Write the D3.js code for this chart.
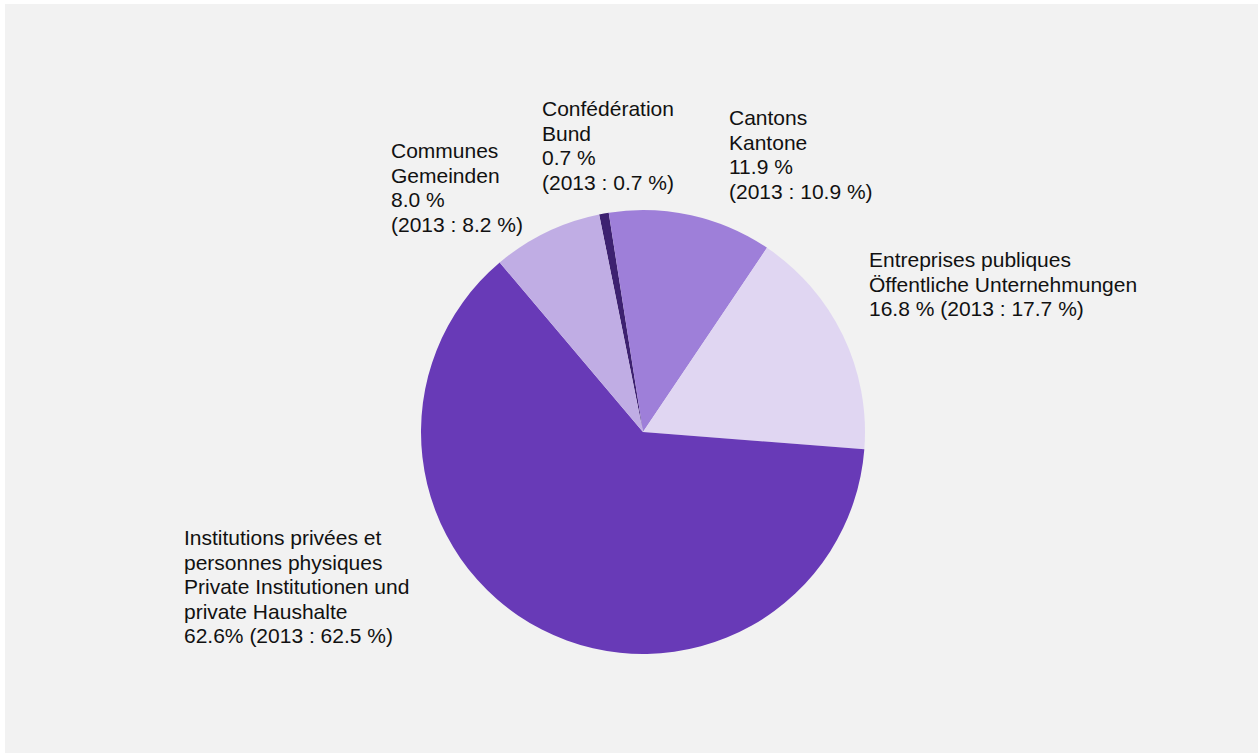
<!DOCTYPE html>
<html>
<head>
<meta charset="utf-8">
<script src="https://cdn.jsdelivr.net/npm/d3@7"></script>
<style>
  html, body { margin: 0; padding: 0; background: #ffffff; }
  svg { display: block; }
  text { font-family: "Liberation Sans", Arial, sans-serif; font-size: 21px; fill: #111111; }
</style>
</head>
<body>
<svg id="chart" width="1258" height="753"></svg>
<script>
// Shares of financing sources (%), drawn clockwise from the top
const categories = ["Confédération", "Cantons", "Entreprises publiques", "Institutions privées", "Communes"];
const shares = [0.7, 11.9, 16.8, 62.6, 8.0];
const colors = ["#3d2170", "#9e7fd9", "#e0d6f2", "#683ab7", "#c0ade4"];

// Label text, one array of lines per slice
const labelLines = [
  ["Confédération", "Bund", "0.7 %", "(2013 : 0.7 %)"],
  ["Cantons", "Kantone", "11.9 %", "(2013 : 10.9 %)"],
  ["Entreprises publiques", "Öffentliche Unternehmungen", "16.8 % (2013 : 17.7 %)"],
  ["Institutions privées et", "personnes physiques", "Private Institutionen und", "private Haushalte", "62.6% (2013 : 62.5 %)"],
  ["Communes", "Gemeinden", "8.0 %", "(2013 : 8.2 %)"]
];
const labelAnchors = [[542, 116], [729, 125], [869, 267], [184, 545], [391, 158]];

const svg = d3.select("#chart");
svg.append("rect").attr("x", 5).attr("y", 4).attr("width", 1253).attr("height", 749).attr("fill", "#f2f2f2");

const cx = 643, cy = 432, r = 222;
const pie = d3.pie().sort(null).value(d => d).startAngle(-0.199).endAngle(-0.199 + 2 * Math.PI);
const arc = d3.arc().innerRadius(0).outerRadius(r);

const g = svg.append("g").attr("transform", `translate(${cx},${cy})`);
g.selectAll("path")
  .data(pie(shares))
  .join("path")
  .attr("d", arc)
  .attr("fill", (d, i) => colors[i]);

const labels = svg.append("g");
labelLines.forEach((lines, i) => {
  const t = labels.append("text").attr("x", labelAnchors[i][0]).attr("y", labelAnchors[i][1]);
  lines.forEach((line, j) => {
    t.append("tspan").attr("x", labelAnchors[i][0]).attr("dy", j === 0 ? 0 : 24.5).text(line);
  });
});
</script>
</body>
</html>
